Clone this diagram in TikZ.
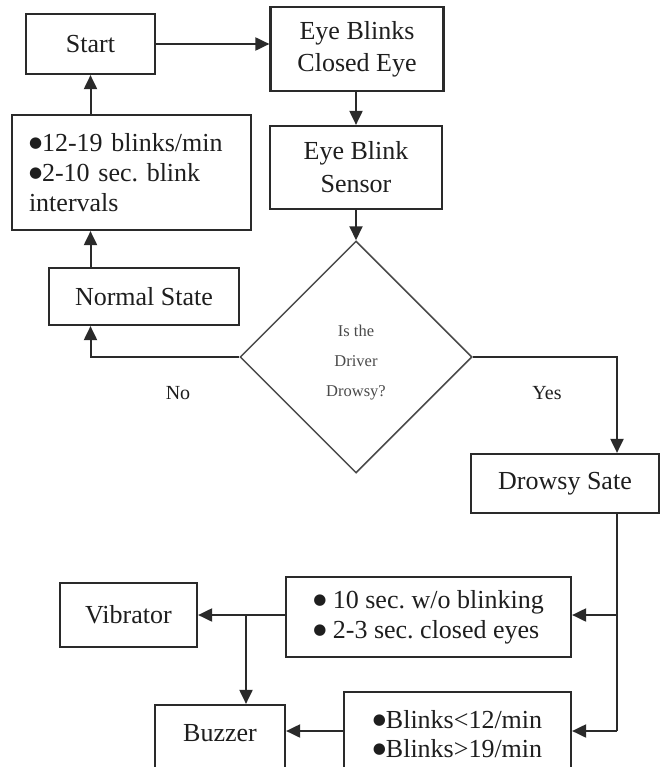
\documentclass[tikz,border=0pt]{standalone}
\usepackage{fontspec}
\setmainfont{Liberation Serif}
\newfontfamily\djsans{DejaVu Sans}
\newcommand\bul{\raisebox{4pt}{\djsans\fontsize{15}{15}\selectfont ●}}
\usetikzlibrary{shapes.geometric,arrows.meta}
\definecolor{ln}{HTML}{2A2A2A}
\definecolor{tx}{HTML}{1E1E1E}
\definecolor{dg}{HTML}{4A4A4A}
\begin{document}
\frenchspacing
\begin{tikzpicture}[x=1pt,y=-1pt,
 box/.style={draw=ln, line width=2.2pt, fill=white, text=tx, align=center, font=\fontsize{26}{31}\selectfont, inner sep=0pt},
 conn/.style={draw=ln, line width=2pt},
 arr/.style={conn, -{Triangle[length=14pt,width=13pt]}},
 lbl/.style={text=tx, font=\fontsize{20}{24}\selectfont}]
\fill[white] (0,0) rectangle (665,767);
\useasboundingbox (0,0) rectangle (665,767);

\node[box, minimum width=129pt, minimum height=60pt] (start) at (90.5,44) {Start};
\node[box, minimum width=173pt, minimum height=84pt, font=\fontsize{26}{32}\selectfont] (eb) at (357,49) {Eye Blinks\\Closed Eye};
\node[box, minimum width=172pt, minimum height=83pt, font=\fontsize{26}{33}\selectfont] (sens) at (356,167.5) {Eye Blink\\Sensor};
\node[draw=dg, line width=1.5pt, diamond, minimum width=232pt, minimum height=232pt, inner sep=0pt,
  label={[text=dg, font=\fontsize{16.5}{30}\selectfont, align=center, yshift=-6pt]center:Is the\\Driver\\Drowsy?}] (dd) at (356,357) {};
\node[box, minimum width=239pt, minimum height=115pt, text width=205pt, align=left, font=\fontsize{26}{30}\selectfont] (nb) at (131.5,172.5) {\bul12-19 blinks/min\\\bul2-10 sec. blink\\intervals};
\node[box, minimum width=190pt, minimum height=57pt] (ns) at (144,296.5) {Normal State};
\node[box, minimum width=188pt, minimum height=59pt] (ds) at (565,483.5) {Drowsy Sate};
\node[box, minimum width=285pt, minimum height=80pt, align=left, font=\fontsize{26}{30}\selectfont] (ts) at (428.5,617) {\bul{} 10 sec. w/o blinking\\\bul{} 2-3 sec. closed eyes};
\node[box, minimum width=227pt, minimum height=85pt, align=left, font=\fontsize{26}{29}\selectfont] (bl) at (457.5,734.5) {\bul Blinks<12/min\\\bul Blinks>19/min};
\node[box, minimum width=137pt, minimum height=64pt] (vib) at (128.5,615) {Vibrator};
\node[box, minimum width=130pt, minimum height=70pt, text height=17pt, text depth=14pt] (bz) at (220,740) {Buzzer};

\node[lbl] (no) at (178,393) {No};
\node[lbl] (yes) at (547,393) {Yes};

\coordinate (tr) at (617,0);
\coordinate (ta) at (617,615);
\coordinate (tb) at (617,731);
\coordinate (br) at (246,615);

\draw[arr] (start.east) -- (start.east -| eb.west);
\draw[arr] (eb.south -| sens) -- (sens.north);
\draw[arr] (sens.south) -- (dd.north);
\draw[arr] (dd.west) -- (dd.west -| start) -- (start |- ns.south);
\draw[arr] (ns.north -| start) -- (start |- nb.south);
\draw[arr] (nb.north -| start) -- (start.south);
\draw[arr] (dd.east) -- (dd.east -| tr) -- (tr |- ds.north);
\draw[conn] (ds.south -| tr) -- (tb);
\draw[arr] (ta) -- (ta -| ts.east);
\draw[arr] (tb) -- (tb -| bl.east);
\draw[arr] (ta -| ts.west) -- (ta -| vib.east);
\draw[arr] (br) -- (br |- bz.north);
\draw[arr] (tb -| bl.west) -- (tb -| bz.east);
\end{tikzpicture}
\end{document}
